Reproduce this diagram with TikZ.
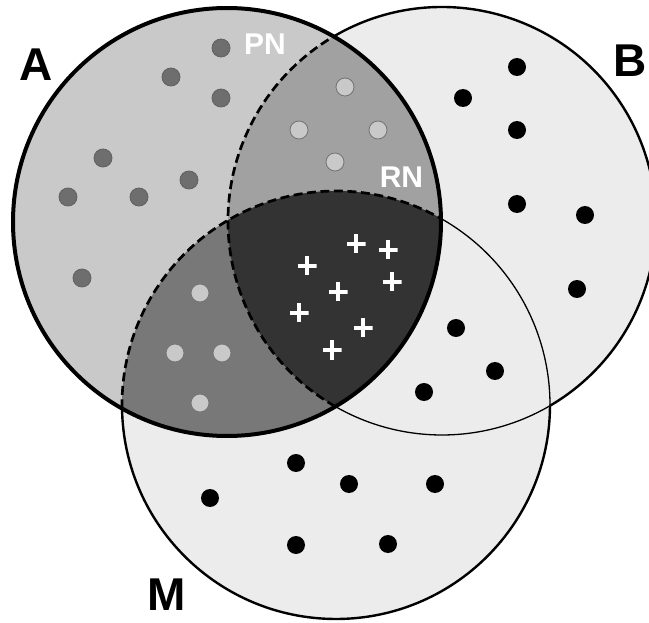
\documentclass[tikz,border=0pt]{standalone}
\usepackage{fontspec}
\setmainfont{Liberation Sans}
\definecolor{aonly}{gray}{0.79}
\definecolor{abpart}{gray}{0.63}
\definecolor{ampart}{gray}{0.47}
\definecolor{abmpart}{gray}{0.2}
\definecolor{outer}{gray}{0.925}
\begin{document}
\begin{tikzpicture}[x=1pt, y=-1pt,
    rim/.style = {draw=black, line width=2.4pt},
    seam/.style = {draw=black, line width=1.3pt},
    cut/.style = {draw=black, line width=2.7pt, dash pattern=on 9pt off 4.5pt},
    adot/.style = {circle, draw=black!62, line width=0.8pt, fill=black!57, minimum size=18pt, inner sep=0pt},
    ldot/.style = {circle, draw=black!55, line width=0.8pt, fill=black!21, minimum size=18pt, inner sep=0pt},
    bdot/.style = {circle, fill=black, minimum size=18pt, inner sep=0pt},
    wplus/.style = {minimum size=19pt, inner sep=0pt, path picture={
        \draw[white, line width=4.5pt] (path picture bounding box.north) -- (path picture bounding box.south)
            (path picture bounding box.west) -- (path picture bounding box.east);}},
    setname/.style = {inner sep=0pt, font=\fontsize{46}{46}\selectfont\bfseries},
    partname/.style = {inner sep=0pt, text=white, font=\fontsize{30}{30}\selectfont\bfseries}]
    \useasboundingbox (0,0) rectangle (649,623);
    \fill[white] (0,0) rectangle (649,623);

    \coordinate (ca) at (227,222);
    \coordinate (cb) at (442,221);
    \coordinate (cm) at (336,405);

    % regions
    \fill[outer] (cb) circle (214);
    \fill[outer] (cm) circle (214);
    \fill[aonly] (ca) circle (214);
    \begin{scope}
        \clip (ca) circle (214);
        \fill[abpart] (cb) circle (214);
        \fill[ampart] (cm) circle (214);
        \clip (cb) circle (214);
        \fill[abmpart] (cm) circle (214);
    \end{scope}

    % outlines of B and M
    \draw[rim]  (cb) ++(-120.4:214) arc[start angle=-120.4, end angle=59.7, radius=214];
    \draw[seam] (cb) ++(59.7:214)   arc[start angle=59.7, end angle=119.9, radius=214];
    \draw[cut]  (cb) ++(119.9:214)  arc[start angle=119.9, end angle=239.6, radius=214];
    \draw[rim]  (cm) ++(0.2:214)    arc[start angle=0.2, end angle=179.1, radius=214];
    \draw[cut]  (cm) ++(179.1:214)  arc[start angle=179.1, end angle=299.4, radius=214];
    \draw[seam] (cm) ++(-60.6:214)  arc[start angle=-60.6, end angle=0.2, radius=214];
    \draw[black, line width=4pt] (ca) circle (214);

    % elements
    \foreach \x/\y [count=\i] in {221/48, 171/77, 221/98, 103/158, 189/180, 68/197, 139/197, 82/278}
        \node[adot] (a\i) at (\x,\y) {};
    \foreach \x/\y [count=\i] in {345/87, 299/130, 378/130, 335/162}
        \node[ldot] (ab\i) at (\x,\y) {};
    \foreach \x/\y [count=\i] in {200/293, 175/353, 222/353, 200/403}
        \node[ldot] (am\i) at (\x,\y) {};
    \foreach \x/\y [count=\i] in {356/244, 388/250, 307/266, 392/282, 338/292, 299/313, 363/328, 332/350}
        \node[wplus] (abm\i) at (\x,\y) {};
    \foreach \x/\y [count=\i] in {517/67, 463/98, 517/130, 517/204, 585/215, 577/289}
        \node[bdot] (b\i) at (\x,\y) {};
    \foreach \x/\y [count=\i] in {456/328, 495/371, 424/392}
        \node[bdot] (bm\i) at (\x,\y) {};
    \foreach \x/\y [count=\i] in {296/463, 210/498, 349/484, 435/484, 296/545, 388/544}
        \node[bdot] (m\i) at (\x,\y) {};

    % labels
    \node[setname] (la) at (36.5,65) {A};
    \node[setname] (lb) at (630,61) {B};
    \node[setname] (lm) at (166.5,595) {M};
    \node[partname] (lpn) at (265,44) {PN};
    \node[partname] (lrn) at (401.5,177.5) {RN};
\end{tikzpicture}
\end{document}
